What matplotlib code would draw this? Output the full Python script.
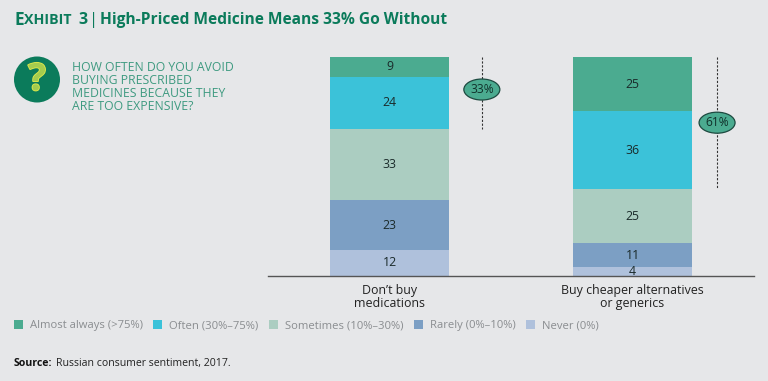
import matplotlib
matplotlib.use('Agg')
import matplotlib.pyplot as plt
import matplotlib.patheffects as pe
from matplotlib.patches import Circle, Ellipse

plt.rcParams['font.family'] = 'Open Sans'

categories = ["Don\u2019t buy\nmedications", "Buy cheaper alternatives\nor generics"]
# stacked bottom to top
series_names = ['Never (0%)', 'Rarely (0%\u201310%)', 'Sometimes (10%\u201330%)', 'Often (30%\u201375%)', 'Almost always (>75%)']
series_values = [
    [12, 4],
    [23, 11],
    [33, 25],
    [24, 36],
    [9, 25],
]
colors = ['#AFC1DC', '#7C9FC4', '#ABCDC1', '#3BC2D9', '#4BAB90']
totals = ['33%', '61%']
total_shares = [33, 61]

bg = '#E6E7E9'
green = '#0B7B5B'
W, H = 768, 381

fig = plt.figure(figsize=(7.68, 3.81), dpi=100, facecolor=bg)
ax = fig.add_axes([268 / W, 1 - 276 / H, 486 / W, 219 / H], facecolor='none')

x = [0, 1]
bottom = [0, 0]
handles = {}
for name, vals, col in zip(series_names, series_values, colors):
    bars = ax.bar(x, vals, width=0.49, bottom=bottom, color=col, label=name)
    handles[name] = bars
    for i, v in enumerate(vals):
        ax.text(x[i], bottom[i] + v / 2, str(v), ha='center', va='center',
                fontsize=8.8, color='#1a2a2a')
    bottom = [b + v for b, v in zip(bottom, vals)]

ax.set_xlim(-0.5, 1.5)
ax.set_ylim(0, 101)
ax.set_yticks([])
ax.set_xticks(x)
ax.set_xticklabels(categories, fontsize=8.9, color='#222222', linespacing=1.08)
ax.tick_params(axis='x', length=0, pad=5.5)
for s in ['top', 'left', 'right']:
    ax.spines[s].set_visible(False)
ax.spines['bottom'].set_color('#555555')
ax.spines['bottom'].set_linewidth(1)

# dashed marker with the share bubble
marker_x = [0.38, 1.348]
for i in range(2):
    ax.plot([marker_x[i], marker_x[i]], [101, 101 - total_shares[i]], color='#333333',
            lw=0.8, ls=(0, (2, 1.5)), clip_on=False)
    cy = 101 - total_shares[i] / 2 + (1.5 if i == 0 else 0.2)
    ax.add_patch(Ellipse((marker_x[i], cy), 36 / 243, 21 / 2.168, facecolor='#4BAB90',
                         edgecolor='#1d4a40', lw=0.9, zorder=3, clip_on=False))
    ax.text(marker_x[i], cy, totals[i], ha='center', va='center', fontsize=8.6,
            color='#10302a', zorder=4)

# legend in the reference's left to right order
order = series_names[::-1]
leg = fig.legend([handles[n] for n in order], order, loc='upper left',
                 bbox_to_anchor=(14 / W, 1 - 320 / H), ncol=5, frameon=False,
                 fontsize=8.1, handlelength=0.8, handleheight=0.8, handletextpad=0.6,
                 columnspacing=0.95, borderpad=0, borderaxespad=0)
for t in leg.get_texts():
    t.set_color('#8a8d90')

# title
fig.text(14 / W, 1 - 20 / H, 'E', fontsize=12.5, fontweight='bold', color=green, va='center')
fig.text(24.5 / W, 1 - 20.5 / H, 'XHIBIT', fontsize=10.3, fontweight='bold', color=green, va='center')
fig.text(78 / W, 1 - 20 / H, '3', fontsize=11.5, fontweight='bold', color=green, va='center')
fig.text(89 / W, 1 - 20 / H, '|', fontsize=12, color=green, va='center')
fig.text(100 / W, 1 - 20 / H, 'High-Priced Medicine Means 33% Go Without', fontsize=11.2,
         fontweight='bold', color=green, va='center')

# question icon
icon = fig.add_axes([0, 0, 1, 1], facecolor='none')
icon.set_xlim(0, W)
icon.set_ylim(H, 0)
icon.axis('off')
icon.add_patch(Circle((37, 79.5), 23, facecolor='#0B7B5B', edgecolor='none'))
icon.text(37, 80, '?', fontsize=27, fontweight='bold', color='#A4CC4E', ha='center', va='center',
          path_effects=[pe.withStroke(linewidth=1.3, foreground='#DCE84A')])
fig.text(72 / W, 1 - 87 / H, 'HOW OFTEN DO YOU AVOID\nBUYING PRESCRIBED\nMEDICINES BECAUSE THEY\nARE TOO EXPENSIVE?',
         fontsize=8.85, color='#3E9A80', va='center', linespacing=0.97)

# source
fig.text(14 / W, 1 - 363.5 / H, 'Source:', fontsize=7.6, fontweight='bold', color='#111111', va='center')
fig.text(56 / W, 1 - 363.5 / H, 'Russian consumer sentiment, 2017.', fontsize=7.6, color='#222222', va='center')

fig.savefig('out.png', dpi=100, facecolor=bg)
